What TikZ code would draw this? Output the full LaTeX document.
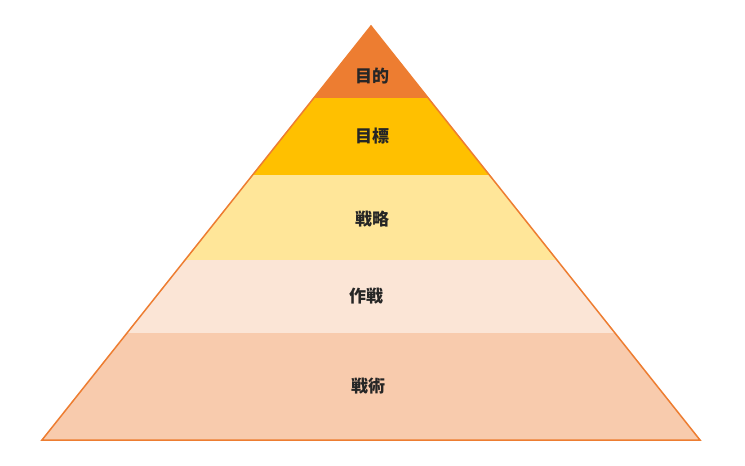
\documentclass[tikz,border=0pt]{standalone}
\usepackage{fontspec}
\newfontfamily\cjk{Noto Sans CJK JP}
\usetikzlibrary{calc}
\begin{document}
\begin{tikzpicture}[x=1pt,y=-1pt,
  lbl/.style={font=\cjk\fontsize{17}{20}\selectfont\bfseries, text=black!85}]
\useasboundingbox (0,0) rectangle (745,466);
\coordinate (T) at (371,26);
\coordinate (L) at (42,440);
\coordinate (R) at (700,440);
\fill[fill={rgb,255:red,237;green,125;blue,49}] (T) -- (313.8,98) -- (428.2,98) -- cycle;
\fill[fill={rgb,255:red,255;green,192;blue,0}] (313.8,98) -- (428.2,98) -- (489.4,175) -- (252.6,175) -- cycle;
\fill[fill={rgb,255:red,255;green,230;blue,153}] (252.6,175) -- (489.4,175) -- (557,260) -- (185,260) -- cycle;
\fill[fill={rgb,255:red,251;green,229;blue,214}] (185,260) -- (557,260) -- (615,333) -- (127,333) -- cycle;
\fill[fill={rgb,255:red,248;green,203;blue,173}] (127,333) -- (615,333) -- (R) -- (L) -- cycle;
\draw[color={rgb,255:red,237;green,125;blue,49}, line width=1.5pt, line join=miter] (T) -- (R) -- (L) -- cycle;
\node[lbl] (a) at (372,76) {目的};
\node[lbl] (b) at (372,136) {目標};
\node[lbl] (c) at (372,219) {戦略};
\node[lbl] (d) at (366,296) {作戦};
\node[lbl] (e) at (368,386) {戦術};
\end{tikzpicture}
\end{document}
